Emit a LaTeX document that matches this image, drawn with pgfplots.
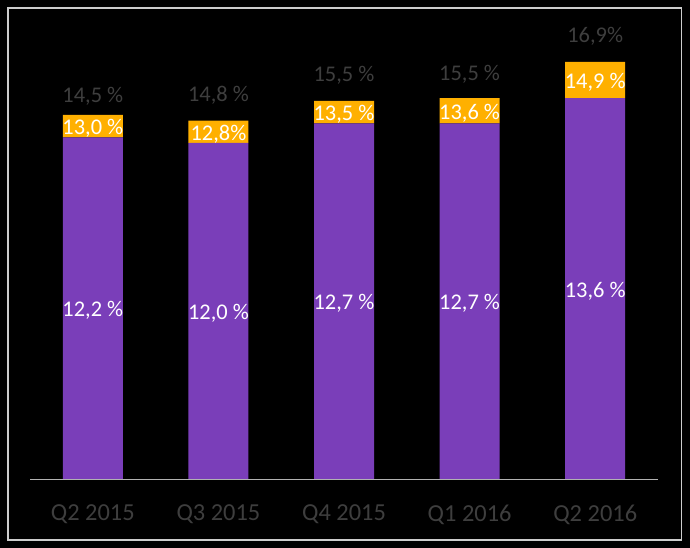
\documentclass[border=0pt]{standalone}
\usepackage{pgfplots}
\pgfplotsset{compat=1.18}
\usepackage{fontspec}
\setmainfont{Carlito}
\definecolor{barpurple}{RGB}{122,62,185}
\definecolor{barorange}{RGB}{255,176,0}
\definecolor{lblgray}{RGB}{62,62,62}
\definecolor{bordergray}{RGB}{205,205,205}
\begin{document}
\begin{tikzpicture}[x=1bp,y=1bp]
\useasboundingbox (0,0) rectangle (690,548);
\fill[black] (0,0) rectangle (690,548);
\begin{axis}[
  at={(30bp,69bp)}, anchor=south west,
  x=125.6bp, y=28bp,
  xmin=-0.5, xmax=4.5, ymin=0, ymax=17,
  ybar stacked, bar width=60bp,
  axis x line=bottom, axis y line=none,
  axis line style={-, draw=gray!60, line width=0.8bp},
  xtick={0,1,2,3,4},
  xticklabels={Q2 2015,Q3 2015,Q4 2015,Q1 2016,Q2 2016},
  major tick length=0pt,
  xticklabel style={font=\fontsize{24.5}{27}\selectfont, text=lblgray, yshift=-22bp},
  clip=false,
  nodes near coords,
  point meta=explicit symbolic,
  every node near coord/.append style={anchor=center, font=\fontsize{22.5}{24}\selectfont, yshift=-2.5bp},
]
\addplot[fill=barpurple, draw=none, nodes near coords style={text=white}] coordinates {
  (0,12.2) [{12,2 \%}]
  (1,12.0) [{12,0 \%}]
  (2,12.7) [{12,7 \%}]
  (3,12.7) [{12,7 \%}]
  (4,13.6) [{13,6 \%}]
};
\addplot[fill=barorange, draw=none, nodes near coords style={text=white}] coordinates {
  (0,0.8) [{13,0 \%}]
  (1,0.8) [{12,8\%}]
  (2,0.8) [{13,5 \%}]
  (3,0.9) [{13,6 \%}]
  (4,1.3) [{14,9 \%}]
};
\addplot[fill=black, draw=none, nodes near coords style={text=lblgray}] coordinates {
  (0,1.5) [{14,5 \%}]
  (1,2.0) [{14,8 \%}]
  (2,2.0) [{15,5 \%}]
  (3,1.9) [{15,5 \%}]
  (4,2.0) [{16,9\%}]
};
\end{axis}
\draw[bordergray, line width=1.7bp] (7.7,7.8) rectangle (681.5,540.3);
\end{tikzpicture}
\end{document}
